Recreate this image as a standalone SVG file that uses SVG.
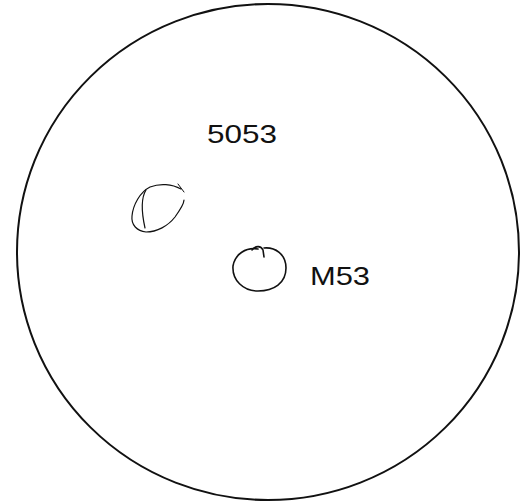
<svg xmlns="http://www.w3.org/2000/svg" width="526" height="503" viewBox="0 0 526 503">
<style>
.ink{fill:none;stroke:#111;stroke-linecap:round;stroke-linejoin:round}
.lbl{font-family:"Liberation Sans",Arial,sans-serif;fill:#111;font-weight:300}
</style>
<rect width="526" height="503" fill="#fff"/>
<g id="dish">
<ellipse class="ink" cx="268" cy="252" rx="251" ry="248" stroke-width="2"/>
</g>
<g id="colony-5053">
<path class="ink" stroke-width="1.2" d="M181,189 C172,184 160,183 150,187 C140,192 133,205 132,216 C131,225 137,231 146,232 C157,232 168,226 175,217 C180,210 184,204 184,200"/>
<path class="ink" stroke-width="1.2" d="M146,190 C141,198 141,210 145,228"/>
<path class="ink" stroke-width="1" d="M178,184 L184,192"/>
<text class="lbl" x="207" y="143" font-size="26" textLength="70" lengthAdjust="spacingAndGlyphs">5053</text>
</g>
<g id="colony-M53">
<path class="ink" stroke-width="1.6" d="M258,249 C246,247 235,254 233,266 C232,280 243,291 258,291 C274,291 286,283 286,268 C286,254 275,247 264,248"/>
<path class="ink" stroke-width="1.6" d="M252,250 C256,245 261,246 263,250 L264,257"/>
<text class="lbl" x="310" y="285" font-size="26" textLength="60" lengthAdjust="spacingAndGlyphs">M53</text>
</g>
</svg>
